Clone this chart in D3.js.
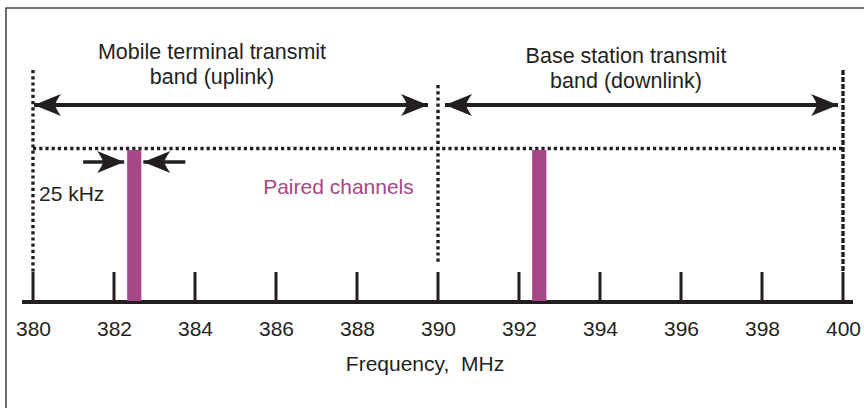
<!DOCTYPE html>
<html>
<head>
<meta charset="utf-8">
<script src="https://cdn.jsdelivr.net/npm/d3@7"></script>
<style>
  html, body { margin: 0; padding: 0; background: #fff; }
  svg { display: block; font-family: "Liberation Sans", Arial, Helvetica, sans-serif; }
</style>
</head>
<body>
<svg id="chart" width="864" height="408"></svg>
<script>
// ---- data ----
const tickValues = [380, 382, 384, 386, 388, 390, 392, 394, 396, 398, 400];
const bandStarts = [380, 390];
const bandEnds = [390, 400];
const bandLabels = [
  ["Mobile terminal transmit", "band (uplink)"],
  ["Base station transmit", "band (downlink)"]
];
const bandEdges = [380, 390, 400];
const channelCenters = [382.5, 392.5];
const channelWidth = 0.35;          // drawn width in MHz (not to scale, 25 kHz)
const channelLabel = "Paired channels";
const spacingLabel = "25 kHz";
const axisTitle = "Frequency,  MHz";

// ---- drawing ----
const ink = "#231f20";
const purple = "#a54686";
const svg = d3.select("#chart");

const x = d3.scaleLinear().domain([380, 400]).range([33, 843]);
const axisY = 302;
const dotY = 148.5;

// frame (top & left visible)
svg.append("path")
  .attr("d", "M6,408 L6,8 L864,8")
  .attr("fill", "none").attr("stroke", "#4a4a4a").attr("stroke-width", 1.6);

// arrowhead marker path
const defs = svg.append("defs");
defs.append("marker")
  .attr("id", "head").attr("viewBox", "-28 -12 30 24")
  .attr("refX", 0).attr("refY", 0)
  .attr("markerUnits", "userSpaceOnUse")
  .attr("markerWidth", 30).attr("markerHeight", 24)
  .attr("orient", "auto-start-reverse")
  .append("path")
  .attr("d", "M0,0 L-27,-11 Q-22,-4 -21,0 Q-22,4 -27,11 Z")
  .attr("fill", ink);

// horizontal dotted line
svg.append("line")
  .attr("x1", x(380)).attr("x2", x(400) + 1)
  .attr("y1", dotY).attr("y2", dotY)
  .attr("stroke", ink).attr("stroke-width", 3.4)
  .attr("stroke-dasharray", "3.2,3");

// vertical dotted band edges
const edgeTop = [70, 85, 70];
const edgeBottom = [272, 262, 272];
svg.selectAll(".edge").data(bandEdges).join("line")
  .attr("class", "edge")
  .attr("x1", d => x(d)).attr("x2", d => x(d))
  .attr("y1", (d, i) => edgeTop[i]).attr("y2", (d, i) => edgeBottom[i])
  .attr("stroke", ink).attr("stroke-width", 3.4)
  .attr("stroke-dasharray", (d, i) => i === 2 ? "5,2" : "3.2,3");

// band arrows
const arrowY = 105;
const arrowInsetStart = [1, 7];
const arrowInsetEnd = [10, 5];
svg.selectAll(".band").data(bandStarts).join("line")
  .attr("class", "band")
  .attr("x1", (d, i) => x(d) + arrowInsetStart[i])
  .attr("x2", (d, i) => x(bandEnds[i]) - arrowInsetEnd[i])
  .attr("y1", arrowY).attr("y2", arrowY)
  .attr("stroke", ink).attr("stroke-width", 4)
  .attr("marker-start", "url(#head)").attr("marker-end", "url(#head)");

// band labels
const labelCx = [212, 626];
const labelBase = [59, 63];
bandLabels.forEach((lines, i) => {
  const t = svg.append("text")
    .attr("text-anchor", "middle")
    .attr("font-size", 21.5).attr("fill", ink);
  lines.forEach((s, j) => {
    t.append("tspan").attr("x", labelCx[i]).attr("y", labelBase[i] + j * 24.5).text(s);
  });
});

// axis
const axis = d3.axisBottom(x).tickValues(tickValues).tickSize(0).tickFormat(d3.format("d"));
const gAxis = svg.append("g").attr("transform", `translate(0,${axisY})`).call(axis);
gAxis.select(".domain").remove();
gAxis.selectAll("text")
  .attr("font-size", 21).attr("fill", ink)
  .attr("font-family", "Liberation Sans, Arial, sans-serif")
  .attr("dy", 0).attr("y", 34);

svg.append("line")
  .attr("x1", 22).attr("x2", 853)
  .attr("y1", axisY).attr("y2", axisY)
  .attr("stroke", ink).attr("stroke-width", 4);

svg.selectAll(".tk").data(tickValues).join("line")
  .attr("class", "tk")
  .attr("x1", d => x(d)).attr("x2", d => x(d))
  .attr("y1", 272).attr("y2", axisY)
  .attr("stroke", ink).attr("stroke-width", 3);

// channel bars
svg.selectAll(".ch").data(channelCenters).join("rect")
  .attr("class", "ch")
  .attr("x", d => x(d - channelWidth / 2))
  .attr("width", d => x(d + channelWidth / 2) - x(d - channelWidth / 2))
  .attr("y", 150).attr("height", axisY - 1 - 150)
  .attr("fill", purple);

// 25 kHz arrows pointing at first channel
const c0 = channelCenters[0];
const smallY = 162;
svg.append("line")
  .attr("x1", x(c0 - channelWidth / 2) - 44).attr("x2", x(c0 - channelWidth / 2) - 3)
  .attr("y1", smallY).attr("y2", smallY)
  .attr("stroke", ink).attr("stroke-width", 3.5)
  .attr("marker-end", "url(#head)");
svg.append("line")
  .attr("x1", x(c0 + channelWidth / 2) + 44).attr("x2", x(c0 + channelWidth / 2) + 2)
  .attr("y1", smallY).attr("y2", smallY)
  .attr("stroke", ink).attr("stroke-width", 3.5)
  .attr("marker-end", "url(#head)");

svg.append("text")
  .attr("x", 39).attr("y", 201)
  .attr("font-size", 21).attr("fill", ink)
  .text(spacingLabel);

svg.append("text")
  .attr("x", 338.5).attr("y", 194)
  .attr("text-anchor", "middle")
  .attr("font-size", 21).attr("fill", purple)
  .text(channelLabel);

svg.append("text")
  .attr("x", 425).attr("y", 371)
  .attr("text-anchor", "middle")
  .attr("font-size", 21).attr("fill", ink)
  .attr("xml:space", "preserve")
  .style("white-space", "pre")
  .text(axisTitle);
</script>
</body>
</html>
